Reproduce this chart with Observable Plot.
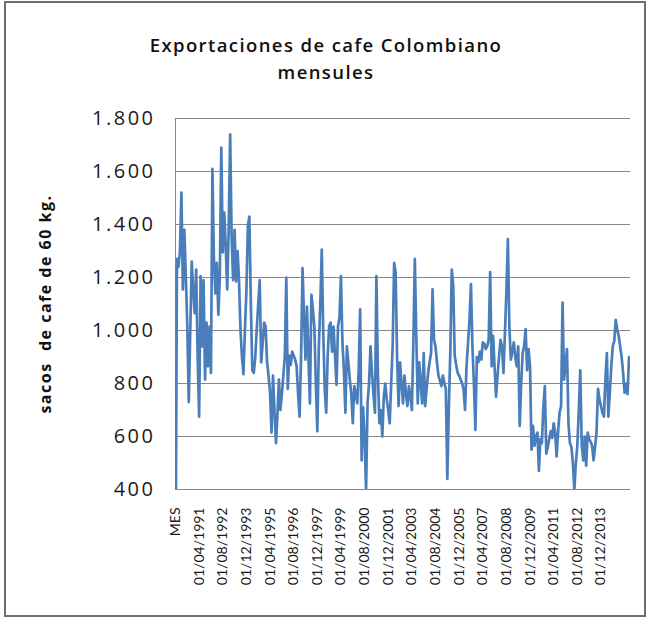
<!DOCTYPE html>
<html>
<head>
<meta charset="utf-8">
<script src="https://cdn.jsdelivr.net/npm/d3@7"></script>
<script src="https://cdn.jsdelivr.net/npm/@observablehq/plot@0.6"></script>
<style>
  body { margin: 0; background: #fff; }
  #wrap { position: relative; width: 655px; height: 627px; overflow: hidden; font-family: Lato, sans-serif; }
  #frame { position: absolute; left: 4px; top: 1px; width: 642px; height: 616px; border: 2px solid #6e6e6e; box-sizing: border-box; }
  #title { position: absolute; left: 0; width: 652px; top: 31px; text-align: center; font-family: "Open Sans", sans-serif; font-weight: 600; font-size: 18.5px; letter-spacing: 1.4px; line-height: 27px; color: #111; }
  #chart { position: absolute; left: 0; top: 0; }
  #chart .yt text { letter-spacing: 2.5px; }
  #chart .ytitle text { letter-spacing: 1.5px; }
</style>
</head>
<body>
<div id="wrap">
  <div id="frame"></div>
  <div id="chart"></div>
  <div id="title">Exportaciones de cafe Colombiano<br>mensules</div>
</div>
<script>
// Category labels: header cell "MES" followed by monthly dates from 01/01/1990
const firstYear = 1990;
const monthCount = 308;
const categories = ["MES"];
for (let i = 0; i < monthCount; i++) {
  const y = firstYear + Math.floor(i / 12);
  const m = (i % 12) + 1;
  categories.push("01/" + String(m).padStart(2, "0") + "/" + y);
}

// Monthly exports (thousands of 60 kg bags); the header cell "MES" counts as 0
const exportsValues = [
  0,
  1270, 1240, 1300, 1520, 1155, 1380, 1200, 1015, 730, 1000, 1260, 1150,   // 1990
  1065, 1230, 900, 675, 1205, 940, 1190, 815, 1030, 865, 1015, 840,        // 1991
  1610, 1270, 1140, 1255, 1060, 1200, 1690, 1295, 1445, 1320, 1155, 1380,  // 1992
  1740, 1355, 1190, 1380, 1185, 1300, 1190, 1000, 900, 835, 1005, 1150,    // 1993
  1395, 1430, 1100, 850, 840, 900, 1005, 1100, 1190, 880, 950, 1030,       // 1994
  1015, 880, 830, 765, 615, 830, 700, 575, 680, 815, 700, 760,             // 1995
  830, 900, 1200, 780, 905, 870, 920, 905, 890, 865, 760, 675,             // 1996
  900, 1235, 1050, 890, 1090, 900, 725, 1135, 1080, 1015, 800, 620,        // 1997
  930, 1100, 1305, 1000, 780, 690, 900, 1015, 1030, 920, 1015, 900,        // 1998
  795, 1015, 1050, 1205, 955, 850, 690, 940, 880, 815, 760, 650,           // 1999
  790, 760, 725, 850, 1080, 510, 710, 600, 400, 725, 800, 940,             // 2000
  840, 760, 690, 1205, 840, 650, 700, 600, 750, 800, 740, 700,             // 2001
  650, 800, 940, 1255, 1220, 900, 715, 880, 800, 725, 830, 760,            // 2002
  715, 790, 750, 700, 950, 1270, 980, 725, 880, 800, 725, 915,             // 2003
  715, 780, 840, 880, 915, 1155, 965, 940, 880, 830, 810, 790,             // 2004
  830, 800, 780, 440, 700, 915, 1230, 1170, 905, 870, 840, 830,            // 2005
  815, 800, 780, 700, 865, 950, 1040, 1175, 940, 800, 625, 900,            // 2006
  880, 920, 890, 955, 950, 930, 940, 965, 1220, 865, 980, 860,             // 2007
  750, 830, 900, 965, 940, 840, 990, 1150, 1345, 1015, 890, 920,           // 2008
  955, 900, 865, 940, 640, 800, 915, 940, 1005, 850, 930, 865,             // 2009
  550, 640, 565, 600, 615, 470, 590, 575, 710, 790, 535, 560,              // 2010
  590, 620, 595, 650, 615, 525, 620, 690, 715, 1105, 815, 870,             // 2011
  930, 650, 575, 560, 500, 400, 500, 565, 700, 850, 565, 510,              // 2012
  600, 490, 615, 590, 580, 565, 510, 560, 615, 780, 740, 715,              // 2013
  690, 675, 815, 915, 675, 765, 865, 940, 960, 1040, 1005, 980,            // 2014
  940, 900, 840, 765, 800, 760, 900, 880                                   // 2015
];

const tickLabels = [
  "MES", "01/04/1991", "01/08/1992", "01/12/1993", "01/04/1995", "01/08/1996",
  "01/12/1997", "01/04/1999", "01/08/2000", "01/12/2001", "01/04/2003",
  "01/08/2004", "01/12/2005", "01/04/2007", "01/08/2008", "01/12/2009",
  "01/04/2011", "01/08/2012", "01/12/2013"
];
const yTicks = [400, 600, 800, 1000, 1200, 1400, 1600, 1800];
const yTitle = "sacos  de cafe de 60 kg.";

const data = categories.map((c, i) => ({cat: c, value: exportsValues[i]}));
const fmt = d3.formatLocale({decimal: ",", thousands: ".", grouping: [3]}).format(",");

const chart = Plot.plot({
  width: 655,
  height: 612,
  marginTop: 118,
  marginBottom: 123,
  marginLeft: 175,
  marginRight: 25,
  style: {fontFamily: "Lato, sans-serif", color: "#1a1a1a", background: "transparent"},
  x: {type: "point", domain: categories, padding: 0},
  y: {domain: [400, 1800]},
  marks: [
    Plot.gridY(yTicks, {stroke: "#888", strokeOpacity: 1, strokeWidth: 1}),
    Plot.ruleX([categories[0]], {stroke: "#888", strokeWidth: 1}),
    Plot.line(data, {x: "cat", y: "value", stroke: "#4a7ebb", strokeWidth: 2.7, strokeLinejoin: "round", clip: true}),
    Plot.axisY({ticks: yTicks, tickFormat: fmt, tickSize: 0, tickPadding: 20, fontSize: 20, fontFamily: "Open Sans, sans-serif", className: "yt", label: null}),
    Plot.axisX({ticks: tickLabels, tickRotate: -90, tickSize: 0, tickPadding: 18, fontSize: 14, label: null}),
    Plot.text([yTitle], {frameAnchor: "left", dx: -130, rotate: -90, textAnchor: "middle", fontWeight: "bold", fontSize: 16, fontFamily: "Open Sans, sans-serif", fill: "#111", className: "ytitle"})
  ]
});
document.getElementById("chart").appendChild(chart);
</script>
</body>
</html>
